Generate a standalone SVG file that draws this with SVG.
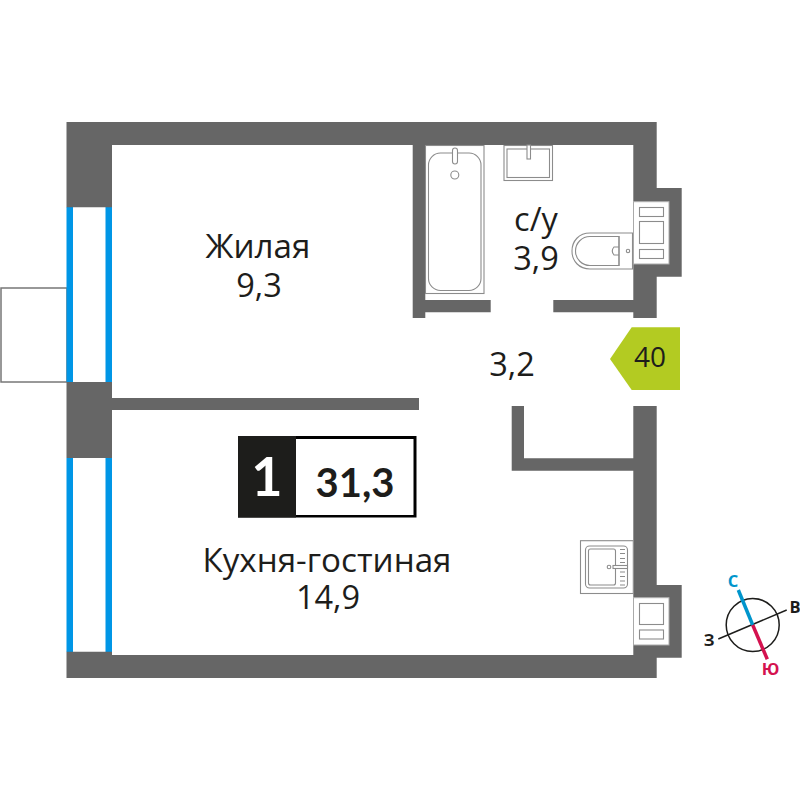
<svg xmlns="http://www.w3.org/2000/svg" width="800" height="800" viewBox="0 0 800 800">
<style>
text{font-family:"Open Sans","Noto Sans","Liberation Sans",sans-serif;fill:#1d1d1b;text-anchor:middle}
.wall{fill:#666}
.win{fill:#0096e6}
.fx{fill:#fff;stroke:#8c8c8c;stroke-width:1.1}
.fxd{fill:none;stroke:#8c8c8c;stroke-width:1.1}
.lbl{font-size:32.500px}
.wd{font-size:33.200px}
.cmp{font-size:16.500px;font-weight:700}
.big{font-family:Lato,"Open Sans",sans-serif}
</style>
<rect width="800" height="800" fill="#fff"/>
<g id="balcony"><rect x="1" y="288" width="66" height="94" fill="#fff" stroke="#777" stroke-width="1.500"/></g>
<g id="windows">
<rect class="win" x="66.500" y="207" width="6.500" height="175"/><rect class="win" x="105.500" y="207" width="6.500" height="175"/>
<rect class="win" x="66.500" y="458" width="6.500" height="194"/><rect class="win" x="105.500" y="458" width="6.500" height="194"/>
</g>
<g id="walls">
<path class="wall" d="M66.500 122H656.700V188H681.700V276.700H656.700V318H633.300V312.300H553.300V300H633.300V264H669V201.700H633.300V145H425.300V300H490.700V312.300H425.300V318H412.700V145H112V207.300H66.500Z"/>
<path class="wall" d="M66.500 382H112V398H419V410H112V458H66.500Z"/>
<path class="wall" d="M511.700 406H524V458.300H633.300V406H656.700V585H681.700V657.700H656.700V678H66.500V651.700H112V655H633.300V645H669V597.700H633.300V470.700H511.700Z"/>
</g>
<g id="bath">
<rect class="fx" x="425.500" y="145.500" width="58.500" height="148"/>
<rect class="fx" x="428.500" y="153" width="52.500" height="137.500" rx="12"/>
<rect class="fx" x="452.500" y="148" width="5" height="16" rx="2.500"/>
<circle class="fx" cx="454.800" cy="175" r="4"/>
</g>
<g id="basin">
<rect class="fx" x="504" y="145.500" width="48.500" height="35"/>
<rect class="fx" x="507" y="149" width="42.500" height="28.500"/>
<rect class="fx" x="527" y="145" width="3.500" height="14"/>
</g>
<g id="toilet">
<path class="fx" d="M633 233H590C579 233 572 241 572 251C572 261 579 269 590 269H633Z"/>
<path class="fxd" d="M619 236.500H590C582 236.500 575.500 243 575.500 251C575.500 259 582 265.500 590 265.500H619Z"/>
<path class="fxd" d="M619 236V266M632.500 233V269"/>
<path class="fxd" d="M619 247H614Q610.500 251 614 255H619"/>
<circle class="fxd" cx="628" cy="251" r="1.700"/>
</g>
<g id="stove-bath">
<rect x="633.500" y="201.700" width="35.500" height="62.300" fill="#fff" stroke="#aaa" stroke-width="1"/>
<rect class="fx" x="639.500" y="207.500" width="24" height="9"/>
<rect class="fx" x="639.500" y="221.500" width="24" height="22"/>
<rect class="fx" x="639.500" y="249.500" width="24" height="9"/>
</g>
<g id="kitchen-sink">
<rect class="fx" x="580.500" y="540.700" width="52.800" height="52.800"/>
<rect class="fx" x="585.500" y="546" width="42" height="42" rx="4"/>
<rect class="fx" x="588.500" y="549" width="27" height="36" rx="2"/>
<path class="fxd" d="M620 549.500h5M620 553.500h5M620 558.500h5M620 562.500h5M620 572h5M620 576.500h5M620 581h5M620 585h5"/>
<rect class="fx" x="613" y="565.500" width="14.500" height="3"/>
<circle class="fx" cx="609" cy="567" r="1.800"/>
</g>
<g id="stove-kitchen">
<rect x="633.500" y="597.700" width="35.500" height="47.300" fill="#fff" stroke="#aaa" stroke-width="1"/>
<rect class="fx" x="639.500" y="603.500" width="24" height="21"/>
<rect class="fx" x="639.500" y="630" width="24" height="9"/>
</g>
<g id="room-living"><text class="lbl" x="258" y="258"><tspan class="wd">Жилая</tspan><tspan x="259" dy="39">9,3</tspan></text></g>
<g id="room-bath"><text class="lbl" x="536" y="231">с/у<tspan x="536" dy="39">3,9</tspan></text></g>
<g id="room-hall"><text class="lbl" x="512" y="376">3,2</text></g>
<g id="room-kitchen"><text class="lbl" x="327" y="572"><tspan class="wd">Кухня-гостиная</tspan><tspan x="328" dy="37">14,9</tspan></text></g>
<g id="tag"><path d="M610 359L631.700 327.300H680V390H631.700Z" fill="#b3cb22"/><text x="650" y="367" font-size="28">40</text></g>
<g id="summary">
<rect x="238" y="436" width="178.500" height="81.500" fill="#000"/>
<rect x="238" y="436" width="58" height="81.500" fill="#1d1d1b"/>
<rect x="296" y="439" width="117.500" height="76" fill="#fff"/>
<text class="big" x="267" y="496" font-size="54" font-weight="700" style="fill:#fff">1</text>
<text class="big" x="355" y="497" font-size="40" font-weight="700">31,3</text>
</g>
<g id="compass">
<circle cx="752.700" cy="625" r="26.500" fill="#fff" stroke="#1d1d1b" stroke-width="1.500"/>
<line x1="718.300" y1="639" x2="786.700" y2="610" stroke="#1d1d1b" stroke-width="1.500"/>
<line x1="738.300" y1="590" x2="752.700" y2="625" stroke="#0095cc" stroke-width="3.500"/>
<line x1="752.700" y1="625" x2="767.300" y2="659.300" stroke="#d4124f" stroke-width="3.500"/>
<text class="cmp" x="733" y="587" style="fill:#0095cc">С</text>
<text class="cmp" x="795" y="613">В</text>
<text class="cmp" x="709" y="646">З</text>
<text class="cmp" x="770.500" y="675" style="fill:#d4124f">Ю</text>
</g>
</svg>
